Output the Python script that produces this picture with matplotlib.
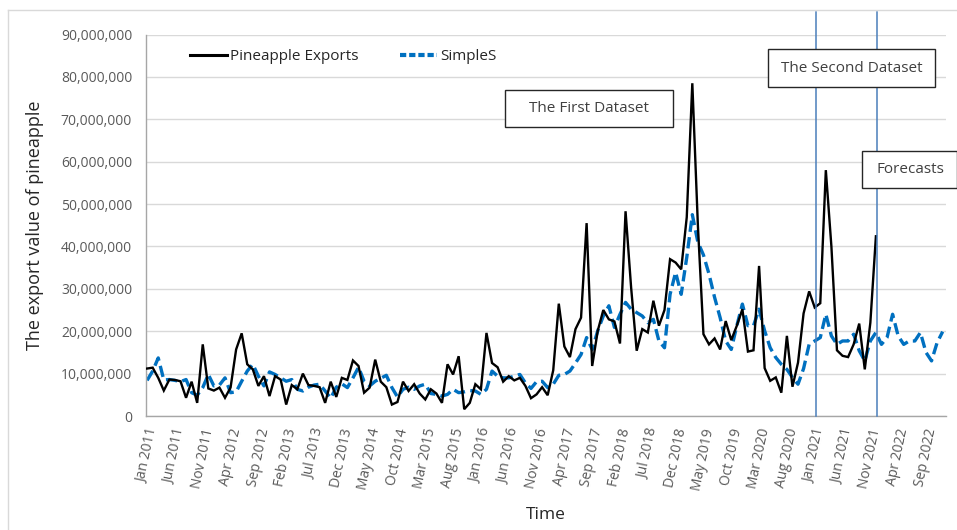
import matplotlib
matplotlib.use("Agg")
import matplotlib.pyplot as plt
from matplotlib.lines import Line2D
from matplotlib.patches import Rectangle
from matplotlib.ticker import FuncFormatter, MultipleLocator

# ---------------- data (millions of baht, monthly Jan 2011 - Dec 2022) ----------------
exports_m = [
    11.2, 11.4, 9.0, 6.0, 8.6, 8.5, 8.2, 4.3, 8.1, 3.1, 16.9, 6.5,
    6.0, 6.7, 4.3, 6.7, 15.7, 19.5, 12.2, 11.0, 7.1, 9.4, 4.7, 9.4,
    8.6, 2.7, 7.3, 6.3, 10.0, 7.3, 7.1, 6.8, 3.1, 8.1, 4.5, 9.0,
    8.5, 13.1, 11.8, 5.5, 6.7, 13.3, 8.1, 6.8, 2.7, 3.3, 8.1, 5.9,
    7.5, 5.3, 3.9, 6.3, 5.3, 3.1, 12.2, 9.8, 14.1, 1.6, 3.1, 7.5,
    6.3, 19.6, 12.5, 11.5, 8.1, 9.4, 8.4, 9.0, 7.1, 4.2, 5.1, 6.8,
    4.9, 10.8, 26.5, 16.4, 13.9, 20.5, 23.2, 45.5, 11.8, 20.1, 25.0, 22.8,
    22.3, 17.1, 48.3, 30.3, 15.4, 20.5, 19.7, 27.2, 21.3, 25.0, 37.0, 36.2,
    34.6, 46.9, 78.5, 45.0, 19.3, 16.9, 18.3, 15.7, 22.4, 17.9, 21.3, 25.2,
    15.2, 15.5, 35.4, 11.3, 8.3, 9.1, 5.5, 18.9, 6.9, 12.6, 24.2, 29.4,
    25.6, 26.6, 58.0, 40.0, 15.5, 14.2, 13.9, 16.9, 21.8, 11.0, 22.0, 42.4,
]
simples_m = [
    8.4, 10.6, 13.7, 8.5, 8.6, 8.4, 8.1, 8.6, 5.5, 4.9, 6.7, 9.8,
    7.1, 7.3, 9.0, 5.5, 5.7, 8.2, 10.6, 12.2, 9.4, 7.1, 10.4, 9.8,
    9.0, 8.2, 8.6, 6.3, 5.9, 6.8, 7.3, 7.5, 5.9, 4.2, 6.8, 7.6,
    6.7, 9.0, 11.5, 8.2, 7.1, 8.2, 8.9, 9.6, 6.7, 4.5, 6.3, 6.8,
    6.3, 7.1, 7.5, 5.3, 5.1, 4.7, 5.1, 6.3, 5.5, 5.7, 6.0, 5.9,
    5.1, 6.3, 10.6, 9.4, 9.0, 9.0, 9.4, 9.8, 7.8, 6.5, 8.1, 8.2,
    6.7, 7.5, 9.6, 9.8, 10.6, 12.5, 14.5, 18.5, 15.7, 20.1, 23.6, 26.0,
    20.9, 24.0, 26.8, 25.2, 24.4, 23.6, 22.0, 22.8, 17.7, 16.1, 28.7, 33.9,
    28.7, 37.4, 47.5, 41.0, 38.0, 33.5, 28.0, 23.2, 17.7, 15.7, 21.3, 26.4,
    21.3, 21.3, 25.2, 20.1, 16.1, 13.8, 12.2, 11.0, 9.1, 7.5, 11.2, 16.9,
    17.7, 18.5, 24.0, 18.9, 16.9, 17.7, 17.7, 19.3, 15.4, 13.0, 17.7, 19.7,
    16.9, 18.5, 24.0, 18.9, 16.9, 17.7, 17.7, 19.7, 15.0, 13.0, 17.3, 19.9,
]
tick_labels = [
    "Jan 2011", "Jun 2011", "Nov 2011", "Apr 2012", "Sep 2012", "Feb 2013",
    "Jul 2013", "Dec 2013", "May 2014", "Oct 2014", "Mar 2015", "Aug 2015",
    "Jan 2016", "Jun 2016", "Nov 2016", "Apr 2017", "Sep 2017", "Feb 2018",
    "Jul 2018", "Dec 2018", "May 2019", "Oct 2019", "Mar 2020", "Aug 2020",
    "Jan 2021", "Jun 2021", "Nov 2021", "Apr 2022", "Sep 2022",
]
tick_step = 5
split_months = [120, 131]   # Jan 2021 (second dataset starts), Dec 2021 (forecasts start)
series_names = ["Pineapple Exports", "SimpleS"]

# ---------------- figure ----------------
W, H = 957, 530
fig = plt.figure(figsize=(W / 100, H / 100), dpi=100)
plt.rcParams['font.family'] = ['Open Sans', 'DejaVu Sans']

def fx(px):
    return px / W

def fy(py):
    return 1 - py / H

ax_left, ax_right, ax_top, ax_bottom = 146, 946, 34.5, 416
ax = fig.add_axes([fx(ax_left), fy(ax_bottom), fx(ax_right - ax_left), (ax_bottom - ax_top) / H])

x_exp = list(range(len(exports_m)))
x_sim = list(range(len(simples_m)))
y_exp = [v * 1e6 for v in exports_m]
y_sim = [v * 1e6 for v in simples_m]

ax.plot(x_exp, y_exp, color="black", lw=1.7, zorder=3, solid_joinstyle="miter")
ax.plot(x_sim, y_sim, color="#0070C0", lw=2.4, ls=(0, (3.4, 1.6)), zorder=2)

ax.set_ylim(0, 90e6)
ax.set_xlim(-0.2, 143.6)
ax.yaxis.set_major_locator(MultipleLocator(10e6))
ax.yaxis.set_major_formatter(FuncFormatter(lambda v, p: f"{int(round(v)):,}"))
ax.grid(axis="y", color="#D9D9D9", lw=1.0)
ax.set_axisbelow(True)
for s in ["top", "right"]:
    ax.spines[s].set_visible(False)
for s in ["left", "bottom"]:
    ax.spines[s].set_color("#A6A6A6")
    ax.spines[s].set_linewidth(1.0)
ax.tick_params(axis="both", length=0, colors="#595959")
ax.tick_params(axis="y", labelsize=10, pad=10)

ticks = list(range(0, tick_step * len(tick_labels), tick_step))
ax.set_xticks(ticks)
ax.set_xticklabels(tick_labels, rotation=78, ha="center", va="top", fontsize=10,
                   color="#595959", rotation_mode="default")
ax.tick_params(axis="x", pad=8)

ax.set_ylabel("The export value of pineapple", fontsize=13, color="#262626", labelpad=12)
ax.set_xlabel("Time", fontsize=12.5, color="#262626", labelpad=11)

# vertical split lines (extend above the plot area)
ext = (ax_bottom - 12) / (ax_bottom - ax_top)
for m in split_months:
    ax.axvline(m + 0.2, ymin=0, ymax=ext, color="#4A7EBB", lw=1.1, clip_on=False, zorder=4)

# legend
handles = [Line2D([], [], color="black", lw=2.2),
           Line2D([], [], color="#0070C0", lw=3, ls=(0, (1.5, 0.7)))]
leg = fig.legend(handles, series_names, loc="center left",
                 bbox_to_anchor=(fx(190), fy(57)), bbox_transform=fig.transFigure,
                 ncol=2, frameon=False, fontsize=11, borderpad=0, borderaxespad=0,
                 handlelength=2.4, handletextpad=0.25, columnspacing=2.7)
for t in leg.get_texts():
    t.set_color("#262626")

# annotation boxes
boxes = [
    ("The First Dataset", 505, 90, 673, 127),
    ("The Second Dataset", 768, 49, 935, 87),
    ("Forecasts", 862, 151, 957, 188),
]
for label, x0, y0, x1, y1 in boxes:
    fig.add_artist(Rectangle((fx(x0), fy(y1)), fx(x1 - x0), (y1 - y0) / H,
                             transform=fig.transFigure, facecolor="white",
                             edgecolor="#262626", lw=1.0, zorder=10))
    fig.text(fx((x0 + x1) / 2 if label != "Forecasts" else 910), fy((y0 + y1) / 2), label,
             ha="center", va="center", fontsize=11, color="#404040", zorder=11)

# chart-area border
fig.add_artist(Line2D([fx(8), 1], [fy(10), fy(10)], transform=fig.transFigure,
                      color="#D9D9D9", lw=1.0))
fig.add_artist(Line2D([fx(8), fx(8)], [fy(10), 0], transform=fig.transFigure,
                      color="#D9D9D9", lw=1.0))

fig.savefig("out.png", dpi=100)
